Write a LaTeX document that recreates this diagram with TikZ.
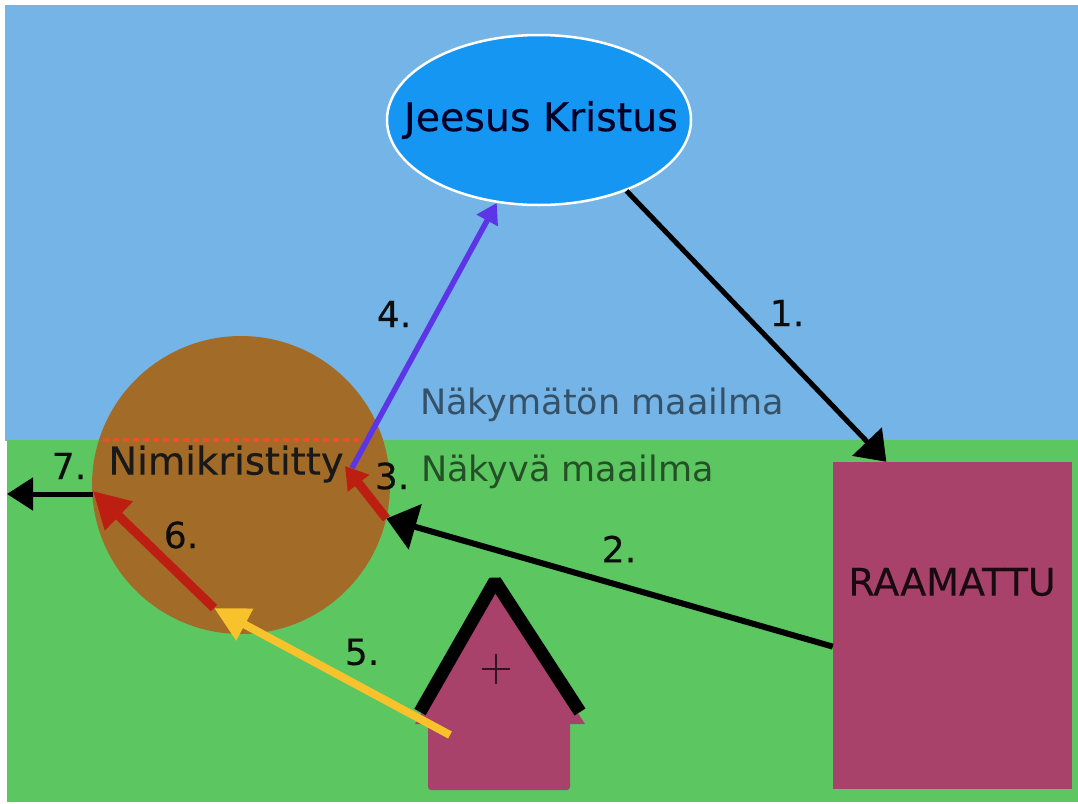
\documentclass[tikz,border=0pt]{standalone}
\usepackage{fontspec}
\setmainfont{DejaVu Sans}
\newfontfamily\softbold[FakeBold=0.35]{DejaVu Sans}
\usetikzlibrary{arrows.meta,shapes.geometric}
\definecolor{sky}{HTML}{75B4E6}
\definecolor{grass}{HTML}{5CC761}
\definecolor{oval}{HTML}{1596F2}
\definecolor{earth}{HTML}{A36B28}
\definecolor{plum}{HTML}{A8426B}
\definecolor{redline}{HTML}{BC1E12}
\definecolor{violetline}{HTML}{5B35E6}
\definecolor{yellowline}{HTML}{F7C22B}
\definecolor{dotline}{HTML}{E8502A}
\tikzset{
  x=1pt,y=-1pt,
  lbl/.style={inner sep=0pt,text=black!95,font=\softbold\fontsize{36}{38}\selectfont},
  world/.style={inner sep=0pt,font=\fontsize{35}{38}\selectfont}
}
\begin{document}
\begin{tikzpicture}
\useasboundingbox (0,0) rectangle (1078,803);
\fill[white] (0,0) rectangle (1078,803);
\fill[sky] (5,5) rectangle (1078,441);
\fill[grass] (7,440) rectangle (1078,802);
% shapes
\node[ellipse,draw=white,line width=2.5pt,fill=oval,minimum width=304pt,minimum height=170pt,inner sep=0pt] (jk) at (539,120) {};
\node[circle,fill=earth,minimum size=298pt,inner sep=0pt] (nk) at (241,485) {};
\node[rectangle,fill=plum,minimum width=239pt,minimum height=327pt,inner sep=0pt] (raamattu) at (952.5,625.5) {};
\node[rectangle,fill=plum,rounded corners=3pt,minimum width=142pt,minimum height=80pt,inner sep=0pt] (church) at (499,750) {};
\fill[plum] (415,724) -- (494,585) -- (585,724) -- cycle;
\draw[line width=13pt,line join=bevel,black] (420,712) -- (495,581) -- (580,712);
\node[inner sep=0pt] (crossc) at (496,669) {};
\draw[line width=2pt,black!70!plum] (482,669) -- (510,669) (496,654) -- (496,684);
% free ends
\coordinate (nkin) at (345,466);
\coordinate (flockin) at (214,608);
\coordinate (flockout) at (93,491);
\coordinate (away) at (7,494);
\coordinate (edge) at (93,494);
\coordinate (churchin) at (450,735);
\coordinate (linea) at (103,440);
\coordinate (lineb) at (370,440);
\coordinate (nkout) at (352,468);
\draw[line width=3.5pt,dash pattern=on 6pt off 4pt,color=dotline] (linea) -- (lineb);
% connectors
\draw[line width=5pt,-{Triangle[length=28pt,width=40pt]},black] (jk.-39) -- (raamattu.112);
\draw[line width=6pt,-{Triangle[length=30pt,width=46pt]},black] (raamattu.190.4) -- (nk.-13);
\draw[line width=9pt,-{Triangle[length=22pt,width=26pt]},redline] (nk.-13) -- (nkin);
\draw[line width=5.5pt,-{Triangle[length=20pt,width=23pt]},violetline] (nkout) -- (jk.-117);
\draw[line width=8pt,-{Triangle[length=35pt,width=34pt]},yellowline] (churchin) -- (flockin);
\draw[line width=9pt,-{Triangle[length=36pt,width=38pt]},redline] (flockin) -- (flockout);
\draw[line width=5pt,-{Triangle[length=26pt,width=32pt]},black] (edge) -- (away);
% texts
\node[inner sep=0pt,font=\softbold\fontsize{39.5}{42}\selectfont,text=black!85!blue] (jkt) at (541,120) {Jeesus Kristus};
\node[inner sep=0pt,font=\softbold\fontsize{38.5}{42}\selectfont,text=black!90] (nkt) at (226,464) {Nimikristitty};
\node[inner sep=0pt,font=\softbold\fontsize{38}{42}\selectfont,text=black!85!plum] (rt) at (952,582) {RAAMATTU};
\node[world,text=sky!45!black,anchor=west] (w1) at (420,405) {Näkymätön maailma};
\node[world,text=grass!40!black,anchor=west] (w2) at (421,472) {Näkyvä maailma};
\node[lbl] (n1) at (787,313) {1.};
\node[lbl] (n2) at (619,549) {2.};
\node[lbl] (n3) at (392,476) {3.};
\node[lbl] (n4) at (394,314) {4.};
\node[lbl] (n5) at (362,652) {5.};
\node[lbl] (n6) at (181,535) {6.};
\node[lbl] (n7) at (69,466) {7.};
\end{tikzpicture}
\end{document}
